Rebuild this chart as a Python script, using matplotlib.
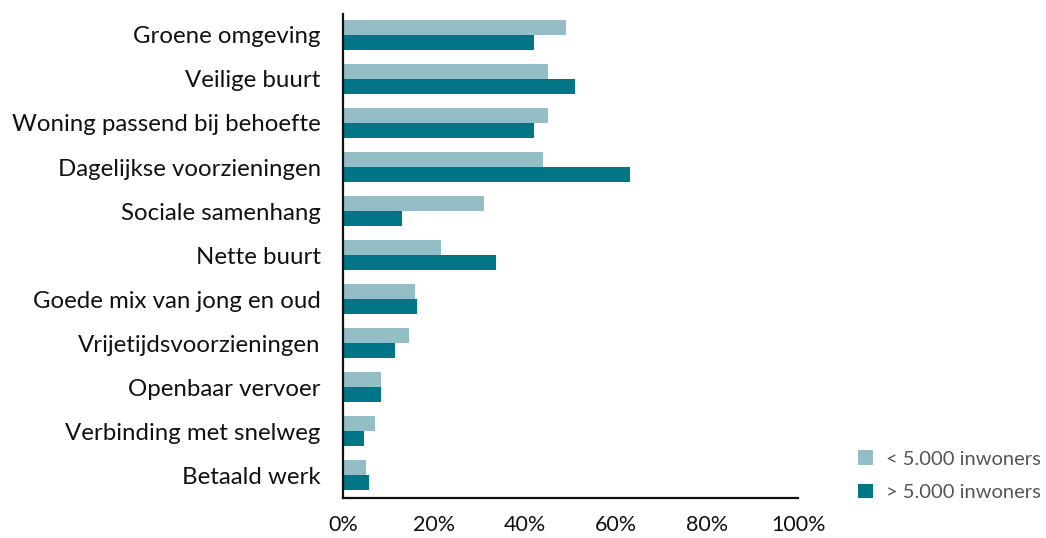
import numpy as np
import matplotlib.pyplot as plt
from matplotlib.ticker import FuncFormatter

plt.rcParams['font.family'] = ['Lato', 'DejaVu Sans']

categories = ['Groene omgeving', 'Veilige buurt', 'Woning passend bij behoefte',
              'Dagelijkse voorzieningen', 'Sociale samenhang', 'Nette buurt',
              'Goede mix van jong en oud', 'Vrijetijdsvoorzieningen',
              'Openbaar vervoer', 'Verbinding met snelweg', 'Betaald werk']
small = [49, 45, 45, 44, 31, 21.5, 15.7, 14.5, 8.3, 7.1, 5.1]
large = [42, 51, 42, 63, 13, 33.5, 16.3, 11.5, 8.3, 4.5, 5.6]
series_labels = ['< 5.000 inwoners', '> 5.000 inwoners']

light = '#93bec6'
dark = '#007585'

fig = plt.figure(figsize=(10.46, 5.38), dpi=100)
ax = fig.add_axes([0.328, 0.0743, 0.435, 0.9])

y = np.arange(len(categories))
h = 0.34
ax.barh(y - h / 2, small, height=h, color=light, label=series_labels[0])
ax.barh(y + h / 2, large, height=h, color=dark, label=series_labels[1])

ax.set_ylim(10.52, -0.48)
ax.set_xlim(0, 100)
ax.set_yticks(y)
ax.set_yticklabels(categories, fontsize=17.3, color='#111111')
ax.set_xticks(np.arange(0, 101, 20))
ax.xaxis.set_major_formatter(FuncFormatter(lambda v, p: f'{v:.0f}%'))
ax.tick_params(axis='x', labelsize=15.5, length=0, pad=12, labelcolor='#111111')
ax.tick_params(axis='y', length=0, pad=16)

for s in ['top', 'right']:
    ax.spines[s].set_visible(False)
for s in ['left', 'bottom']:
    ax.spines[s].set_linewidth(1.6)
    ax.spines[s].set_color('#111111')

leg = fig.legend(loc='lower right', bbox_to_anchor=(1.012, 0.035), frameon=False,
                 fontsize=14.5, handlelength=0.75, handleheight=0.75,
                 handletextpad=0.6, labelspacing=0.8)
for t in leg.get_texts():
    t.set_color('#555555')

fig.savefig('out.png', dpi=100)
